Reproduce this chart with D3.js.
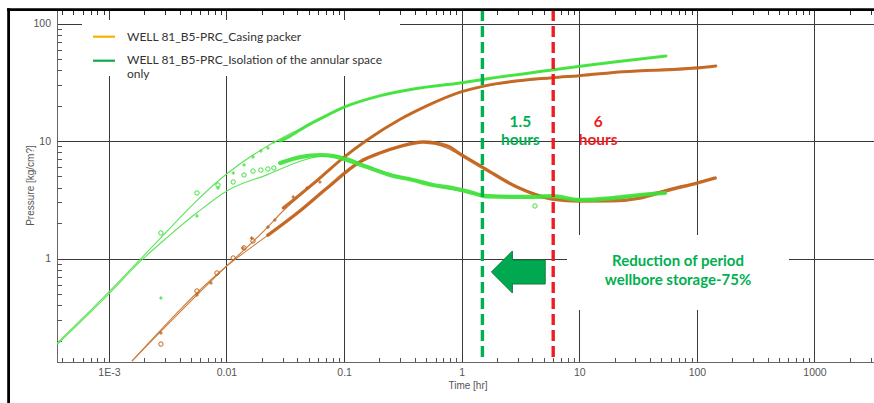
<!DOCTYPE html>
<html>
<head>
<meta charset="utf-8">
<script src="https://cdn.jsdelivr.net/npm/d3@7"></script>
<style>
  html, body { margin: 0; padding: 0; background: #fff; }
  svg { display: block; }
</style>
</head>
<body>
<svg id="chart" width="874" height="403"></svg>
<script>
// ---------- axes ----------
const timeDecades = [1e-3, 0.01, 0.1, 1, 10, 100, 1000];
const timeLabels = ["1E-3", "0.01", "0.1", "1", "10", "100", "1000"];
const pressureDecades = [1, 10, 100];
const pressureLabels = ["1", "10", "100"];

// ---------- series: [time hr, pressure kg/cm2] ----------
// Casing packer (brown)
const packerPressure = [[0.0304,2.69],[0.06,4.7],[0.1,7.3],[0.157,10.2],[0.3,15.3],[0.5,19.8],[1,26.3],[1.6,29.6],[5.86,34.6],[10,36.0],[23.5,38.9],[100,41.8],[145,43.5]];
const packerDerivative = [[0.0225,1.58],[0.0423,2.55],[0.07,3.9],[0.137,6.67],[0.202,7.9],[0.3,9.0],[0.47,9.8],[0.75,9.1],[1.0,7.6],[1.6,5.75],[2.95,4.06],[5.86,3.21],[10,3.09],[19.4,3.1],[32.8,3.27],[58,3.83],[100,4.39],[143,4.84]];
const packerEarlyPressure = [[0.00277,0.232],[0.00561,0.489],[0.00738,0.618],[0.0138,1.23],[0.0164,1.49],[0.0225,1.85],[0.0258,2.13],[0.0369,3.34],[0.0484,3.98],[0.0623,4.48]];
const packerEarlyDerivative = [[0.00277,0.187],[0.00561,0.529],[0.0083,0.753],[0.0114,1.01],[0.0141,1.23],[0.0168,1.41]];
const packerModelPressure = [[0.00157,0.134],[0.01,0.86],[0.02,1.65],[0.0304,2.55],[0.06,4.6],[0.1,7.3],[0.157,10.2],[0.3,15.3],[1,26.3],[10,36.0],[145,43.5]];
const packerModelDerivative = [[0.00157,0.134],[0.01,0.86],[0.0225,1.58],[0.0423,2.55],[0.07,3.9],[0.137,6.67],[0.3,9.0],[0.47,9.8],[1.0,7.6],[2.95,4.06],[10,3.09],[143,4.84]];

// Isolation of the annular space only (green)
const annularPressure = [[0.0286,10.0],[0.0347,11.0],[0.0465,13.2],[0.0662,15.9],[0.1,19.4],[0.2,24.2],[0.4,27.8],[1,31.3],[1.6,33.7],[5.86,40.2],[12.3,44.4],[23.5,48.0],[54.6,52.9]];
const annularDerivative = [[0.0286,6.5],[0.0423,7.3],[0.0626,7.6],[0.0838,7.4],[0.106,6.9],[0.157,6.0],[0.245,5.14],[0.385,4.66],[0.57,4.22],[0.84,3.98],[1.25,3.61],[1.6,3.38],[3.8,3.34],[5.86,3.4],[10,3.15],[19.4,3.27],[32.8,3.47],[53.6,3.61]];
const annularEarlyPressure = [[0.00277,0.461],[0.00561,2.30],[0.00846,3.98],[0.0114,5.34],[0.0141,6.25],[0.0168,7.31],[0.0196,8.22],[0.0225,8.72],[0.0253,9.80]];
const annularEarlyDerivative = [[0.00277,1.65],[0.00561,3.61],[0.00846,4.22],[0.0114,4.48],[0.0141,5.14],[0.0168,5.55],[0.0196,5.66],[0.0225,5.78],[0.0253,5.89],[4.2,2.8]];
const annularModelPressure = [[3.62e-4,0.19],[1e-3,0.52],[0.00184,0.98],[0.0104,5.4],[0.0327,11.2],[0.0465,13.2],[0.1,19.4],[0.2,24.2],[0.4,27.8],[1,31.3],[5.86,40.2],[54.6,52.9]];
const annularModelDerivative = [[3.62e-4,0.185],[1e-3,0.5],[0.00184,0.94],[0.0031,1.5],[0.0056,2.45],[0.0104,3.83],[0.0226,5.2],[0.042,6.7],[0.063,7.4],[0.093,7.4],[0.157,6.1],[0.385,4.66],[1.25,3.6],[10,3.2],[53.6,3.6]];

// ---------- legend & annotations ----------
const legendRows = [
  { color: "#f5b400", lines: ["WELL 81_B5-PRC_Casing packer"] },
  { color: "#12a84e", lines: ["WELL 81_B5-PRC_Isolation of the annular space", "only"] }
];
const eventTimes = [1.5, 6];
const eventColors = ["#00b050", "#ee1c24"];
const eventLabels = [["1.5", "hours"], ["6", "hours"]];
const noteLines = ["Reduction of period", "wellbore storage-75%"];

// ---------- layout ----------
const plot = { left: 57, right: 880, top: 10, bottom: 362 };
const svg = d3.select("#chart");

const x = d3.scaleLog().domain([3.62e-4, 3606]).range([plot.left, plot.right]);
const y = d3.scaleLog().domain([0.1316, 130.3]).range([plot.bottom, plot.top]);

const GREEN = "#3fe23a", GREEN_MODEL = "#5fe35a";
const BROWN = "#c2621a", BROWN_MODEL = "#c97d3e";
const AXIS_FONT = "'Liberation Sans', Arial, sans-serif";

svg.append("rect").attr("width", 874).attr("height", 403).attr("fill", "#fff");

// minor tick values for log axes
function minorValues(scale) {
  const [a, b] = scale.domain();
  const out = [];
  for (let e = -5; e <= 4; e++) {
    for (let m = 2; m <= 9; m++) {
      const v = m * Math.pow(10, e);
      if (v > a && v < b) out.push(v);
    }
  }
  return out;
}

// ---------- grid ----------
const grid = svg.append("g").attr("shape-rendering", "crispEdges");
grid.selectAll("line.vx").data(timeDecades).join("line")
  .attr("x1", d => Math.round(x(d)) + 0.5).attr("x2", d => Math.round(x(d)) + 0.5)
  .attr("y1", plot.top).attr("y2", plot.bottom)
  .attr("stroke", "#3a3a3a").attr("stroke-width", 1);
grid.selectAll("line.hy").data(pressureDecades).join("line")
  .attr("x1", plot.left).attr("x2", plot.right)
  .attr("y1", d => Math.round(y(d)) + 0.5).attr("y2", d => Math.round(y(d)) + 0.5)
  .attr("stroke", "#3a3a3a").attr("stroke-width", 1);

// top-edge ticks
const topTicks = svg.append("g").attr("shape-rendering", "crispEdges");
topTicks.selectAll("line.mn").data(minorValues(x)).join("line")
  .attr("x1", d => Math.round(x(d)) + 0.5).attr("x2", d => Math.round(x(d)) + 0.5)
  .attr("y1", plot.top).attr("y2", plot.top + 4.5)
  .attr("stroke", "#333");

// white panels behind legend and note
svg.append("rect").attr("x", 82).attr("y", 20).attr("width", 318).attr("height", 56).attr("fill", "#fff");
svg.append("rect").attr("x", 567).attr("y", 235).attr("width", 222).attr("height", 75).attr("fill", "#fff");

// ---------- axes ----------
const xAxisG = svg.append("g").attr("transform", `translate(0,${plot.bottom})`);
xAxisG.call(d3.axisBottom(x).tickValues(timeDecades).tickSize(0).tickPadding(7)
  .tickFormat((d, i) => timeLabels[i]));
xAxisG.select(".domain").attr("stroke", "#666").attr("shape-rendering", "crispEdges");
xAxisG.selectAll("text").attr("font-family", AXIS_FONT).attr("font-size", 10.5).attr("fill", "#555");

const xMinorG = svg.append("g").attr("transform", `translate(0,${plot.bottom})`);
xMinorG.call(d3.axisBottom(x).tickValues(minorValues(x)).tickSize(-4).tickFormat(""));
xMinorG.select(".domain").remove();
xMinorG.selectAll("line").attr("stroke", "#555").attr("shape-rendering", "crispEdges");

const yAxisG = svg.append("g").attr("transform", `translate(${plot.left},0)`);
yAxisG.call(d3.axisLeft(y).tickValues(pressureDecades).tickSize(0).tickPadding(6)
  .tickFormat((d, i) => pressureLabels[i]));
yAxisG.select(".domain").attr("stroke", "#666").attr("shape-rendering", "crispEdges");
yAxisG.selectAll("text").attr("font-family", AXIS_FONT).attr("font-size", 10.5).attr("fill", "#555");

const yMinorG = svg.append("g").attr("transform", `translate(${plot.left},0)`);
yMinorG.call(d3.axisLeft(y).tickValues(minorValues(y)).tickSize(-5).tickFormat(""));
yMinorG.select(".domain").remove();
yMinorG.selectAll("line").attr("stroke", "#555").attr("shape-rendering", "crispEdges");

svg.append("text").attr("x", 468).attr("y", 389).attr("text-anchor", "middle")
  .attr("font-family", AXIS_FONT).attr("font-size", 10).attr("fill", "#555").text("Time [hr]");
svg.append("text").attr("transform", "translate(33.5,185.5) rotate(-90)").attr("text-anchor", "middle")
  .attr("font-family", AXIS_FONT).attr("font-size", 10).attr("fill", "#555").text("Pressure [kg/cm?]");

// ---------- data ----------
svg.append("clipPath").attr("id", "plotClip").append("rect")
  .attr("x", plot.left).attr("y", plot.top).attr("width", plot.right - plot.left).attr("height", plot.bottom - plot.top);
const data = svg.append("g").attr("clip-path", "url(#plotClip)");

const curve = d3.line().x(d => x(d[0])).y(d => y(d[1])).curve(d3.curveMonotoneX);

// model lines (thin)
[[annularModelPressure, GREEN_MODEL], [annularModelDerivative, GREEN_MODEL],
 [packerModelPressure, BROWN_MODEL], [packerModelDerivative, BROWN_MODEL]].forEach(([d, c]) => {
  data.append("path").attr("d", curve(d)).attr("fill", "none").attr("stroke", c).attr("stroke-width", 1.1);
});

// dense measured bands
[[packerPressure, BROWN, 3], [packerDerivative, BROWN, 3.4],
 [annularPressure, GREEN, 3], [annularDerivative, GREEN, 4.2]].forEach(([d, c, w]) => {
  data.append("path").attr("d", curve(d)).attr("fill", "none").attr("stroke", c)
    .attr("stroke-width", w).attr("stroke-linecap", "round").attr("opacity", 0.92);
});

// sparse early points: circles (derivative), crosses (pressure)
function circles(arr, color) {
  data.append("g").selectAll("circle").data(arr).join("circle")
    .attr("cx", d => x(d[0])).attr("cy", d => y(d[1])).attr("r", 2.2)
    .attr("fill", "none").attr("stroke", color).attr("stroke-width", 1);
}
function crosses(arr, color) {
  data.append("g").selectAll("path").data(arr).join("path")
    .attr("d", d => { const cx = x(d[0]), cy = y(d[1]); return `M${cx-1.8},${cy}H${cx+1.8}M${cx},${cy-1.8}V${cy+1.8}`; })
    .attr("stroke", color).attr("stroke-width", 1.1);
}
circles(annularEarlyDerivative, GREEN);
crosses(annularEarlyPressure, GREEN);
circles(packerEarlyDerivative, BROWN);
crosses(packerEarlyPressure, BROWN);

// ---------- event markers ----------
eventTimes.forEach((t, i) => {
  svg.append("line").attr("x1", x(t)).attr("x2", x(t)).attr("y1", plot.top).attr("y2", plot.bottom)
    .attr("stroke", eventColors[i]).attr("stroke-width", 3.4).attr("stroke-dasharray", "11,5");
});

const boldFont = "Lato, 'Open Sans', sans-serif";
const eventLabelX = [x(eventTimes[0]) + 38, x(eventTimes[1]) + 45];
eventLabels.forEach((lines, i) => {
  lines.forEach((s, j) => {
    svg.append("text").attr("x", eventLabelX[i]).attr("y", 127 + j * 18).attr("text-anchor", "middle")
      .attr("font-family", boldFont).attr("font-weight", 700).attr("font-size", 15.5)
      .attr("fill", eventColors[i]).text(s);
  });
});

// arrow pointing back from the 6 h line to the 1.5 h line
{
  const tip = x(eventTimes[0]) + 9, tail = x(eventTimes[1]) - 8, neck = tip + 21;
  const cy = 272;
  svg.append("path")
    .attr("d", `M${tip},${cy} L${neck},${cy-21} L${neck},${cy-12} L${tail},${cy-12} L${tail},${cy+12} L${neck},${cy+12} L${neck},${cy+21} Z`)
    .attr("fill", "#00a84f").attr("stroke", "#137a3e").attr("stroke-width", 1);
}

noteLines.forEach((s, j) => {
  svg.append("text").attr("x", 678).attr("y", 266 + j * 19).attr("text-anchor", "middle")
    .attr("font-family", boldFont).attr("font-weight", 700).attr("font-size", 15)
    .attr("fill", "#00b050").text(s);
});

// ---------- legend ----------
const legend = svg.append("g");
const legendY = [36.7, 60.7];
const textY = [[40.5], [64, 77.5]];
legendRows.forEach((row, i) => {
  legend.append("line").attr("x1", 93).attr("x2", 115).attr("y1", legendY[i]).attr("y2", legendY[i])
    .attr("stroke", row.color).attr("stroke-width", 2.2);
  row.lines.forEach((s, j) => {
    legend.append("text").attr("x", 127).attr("y", textY[i][j])
      .attr("font-family", "Lato, 'Open Sans', sans-serif").attr("font-size", 12).attr("fill", "#333").text(s);
  });
});

// ---------- outer frame ----------
svg.append("line").attr("x1", 7).attr("x2", 874).attr("y1", 9.6).attr("y2", 9.6)
  .attr("stroke", "#000").attr("stroke-width", 2.8);
svg.append("line").attr("x1", 8.6).attr("x2", 8.6).attr("y1", 8.2).attr("y2", 403)
  .attr("stroke", "#000").attr("stroke-width", 2.8);
</script>
</body>
</html>
